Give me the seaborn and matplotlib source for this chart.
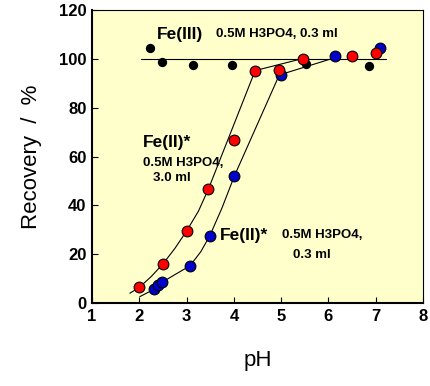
import matplotlib
matplotlib.use('Agg')
import matplotlib.pyplot as plt
import seaborn as sns
import pandas as pd

# Fe(III), 0.5M H3PO4 0.3 ml
fe3_ph = [2.23, 2.49, 3.13, 3.95, 5.52, 6.86]
fe3_rec = [104.4, 98.7, 97.3, 97.3, 97.9, 97.1]
fe3_line_ph = [2.03, 7.22]
fe3_line_rec = [100, 100]

# Fe(II)*, 0.5M H3PO4 3.0 ml (red)
red_ph = [1.99, 2.51, 3.0, 3.46, 4.01, 4.45, 4.96, 5.47, 6.49, 7.0]
red_rec = [6.4, 16.0, 29.5, 46.6, 66.8, 95.2, 95.5, 100.0, 101.2, 102.3]
red_fit_ph = [1.8, 2.0, 2.25, 2.5, 2.75, 3.0, 3.25, 3.46, 4.45, 5.47]
red_fit_rec = [4.0, 6.4, 10.8, 16.0, 22.3, 29.5, 37.6, 46.6, 95.2, 100.2]

# Fe(II)*, 0.5M H3PO4 0.3 ml (blue)
blue_ph = [2.31, 2.40, 2.49, 3.07, 3.49, 4.01, 5.0, 6.14, 7.1]
blue_rec = [5.7, 7.4, 8.7, 15.2, 27.5, 52.0, 93.3, 101.2, 104.6]
blue_fit_ph = [2.01, 2.3, 2.5, 2.75, 3.07, 3.3, 3.49, 3.75, 4.01, 4.96, 6.14]
blue_fit_rec = [2.6, 5.5, 8.7, 11.6, 15.2, 21.0, 27.5, 39.0, 52.0, 93.4, 100.5]

x_ticks = [1, 2, 3, 4, 5, 6, 7, 8]
y_ticks = [0, 20, 40, 60, 80, 100, 120]

sns.set_style('ticks')
plt.rcParams['font.family'] = ['Liberation Sans', 'DejaVu Sans']
plt.rcParams['text.color'] = 'black'
plt.rcParams['axes.labelcolor'] = 'black'

fig = plt.figure(figsize=(4.31, 3.86), dpi=100)
ax = fig.add_axes([0.2135, 0.215, 0.768, 0.759])
ax.set_facecolor('#FFFFCC')

line_kw = dict(color='black', linewidth=0.8, sort=False, estimator=None, ax=ax)
sns.lineplot(x=fe3_line_ph, y=fe3_line_rec, **line_kw)
sns.lineplot(x=red_fit_ph, y=red_fit_rec, **line_kw)
sns.lineplot(x=blue_fit_ph, y=blue_fit_rec, **line_kw)

sns.scatterplot(x=fe3_ph, y=fe3_rec, color='black', s=45, linewidth=0, ax=ax, zorder=3)
sns.scatterplot(x=blue_ph, y=blue_rec, color='#0000CC', s=60, edgecolor='black',
                linewidth=0.8, ax=ax, zorder=4)
sns.scatterplot(x=red_ph, y=red_rec, color='#FF0000', s=60, edgecolor='black',
                linewidth=0.8, ax=ax, zorder=5)

big = dict(fontsize=12.5, fontweight='bold', va='center')
small = dict(fontsize=9.5, fontweight='bold', va='center')
ax.text(2.37, 110, 'Fe(III)', **big)
ax.text(3.62, 110, '0.5M H3PO4, 0.3 ml', **small)
ax.text(2.07, 65.6, 'Fe(II)*', **big)
ax.text(2.07, 57.5, '0.5M H3PO4,', **small)
ax.text(2.29, 51.4, '3.0 ml', **small)
ax.text(3.71, 27.5, 'Fe(II)*', **big)
ax.text(5.01, 27.9, '0.5M H3PO4,', **small)
ax.text(5.26, 19.7, '0.3 ml', **small)

ax.set_xlim(1, 8)
ax.set_ylim(0, 120)
ax.set_xticks(x_ticks)
ax.set_yticks(y_ticks)
ax.set_xticklabels([str(t) for t in x_ticks], fontsize=12, fontweight='bold')
ax.set_yticklabels([str(t) for t in y_ticks], fontsize=12, fontweight='bold')
ax.tick_params(direction='in', length=4, width=0.8, pad=4, colors='black')

ax.set_xlabel('pH', fontsize=16, labelpad=19)
ax.set_ylabel('Recovery  /  %', fontsize=16, labelpad=12)

for side in ['left', 'bottom']:
    ax.spines[side].set_linewidth(1.5)
for side in ['top', 'right']:
    ax.spines[side].set_linewidth(0.8)
for side in ax.spines:
    ax.spines[side].set_color('black')

fig.savefig('out.png', dpi=100, facecolor='white')
